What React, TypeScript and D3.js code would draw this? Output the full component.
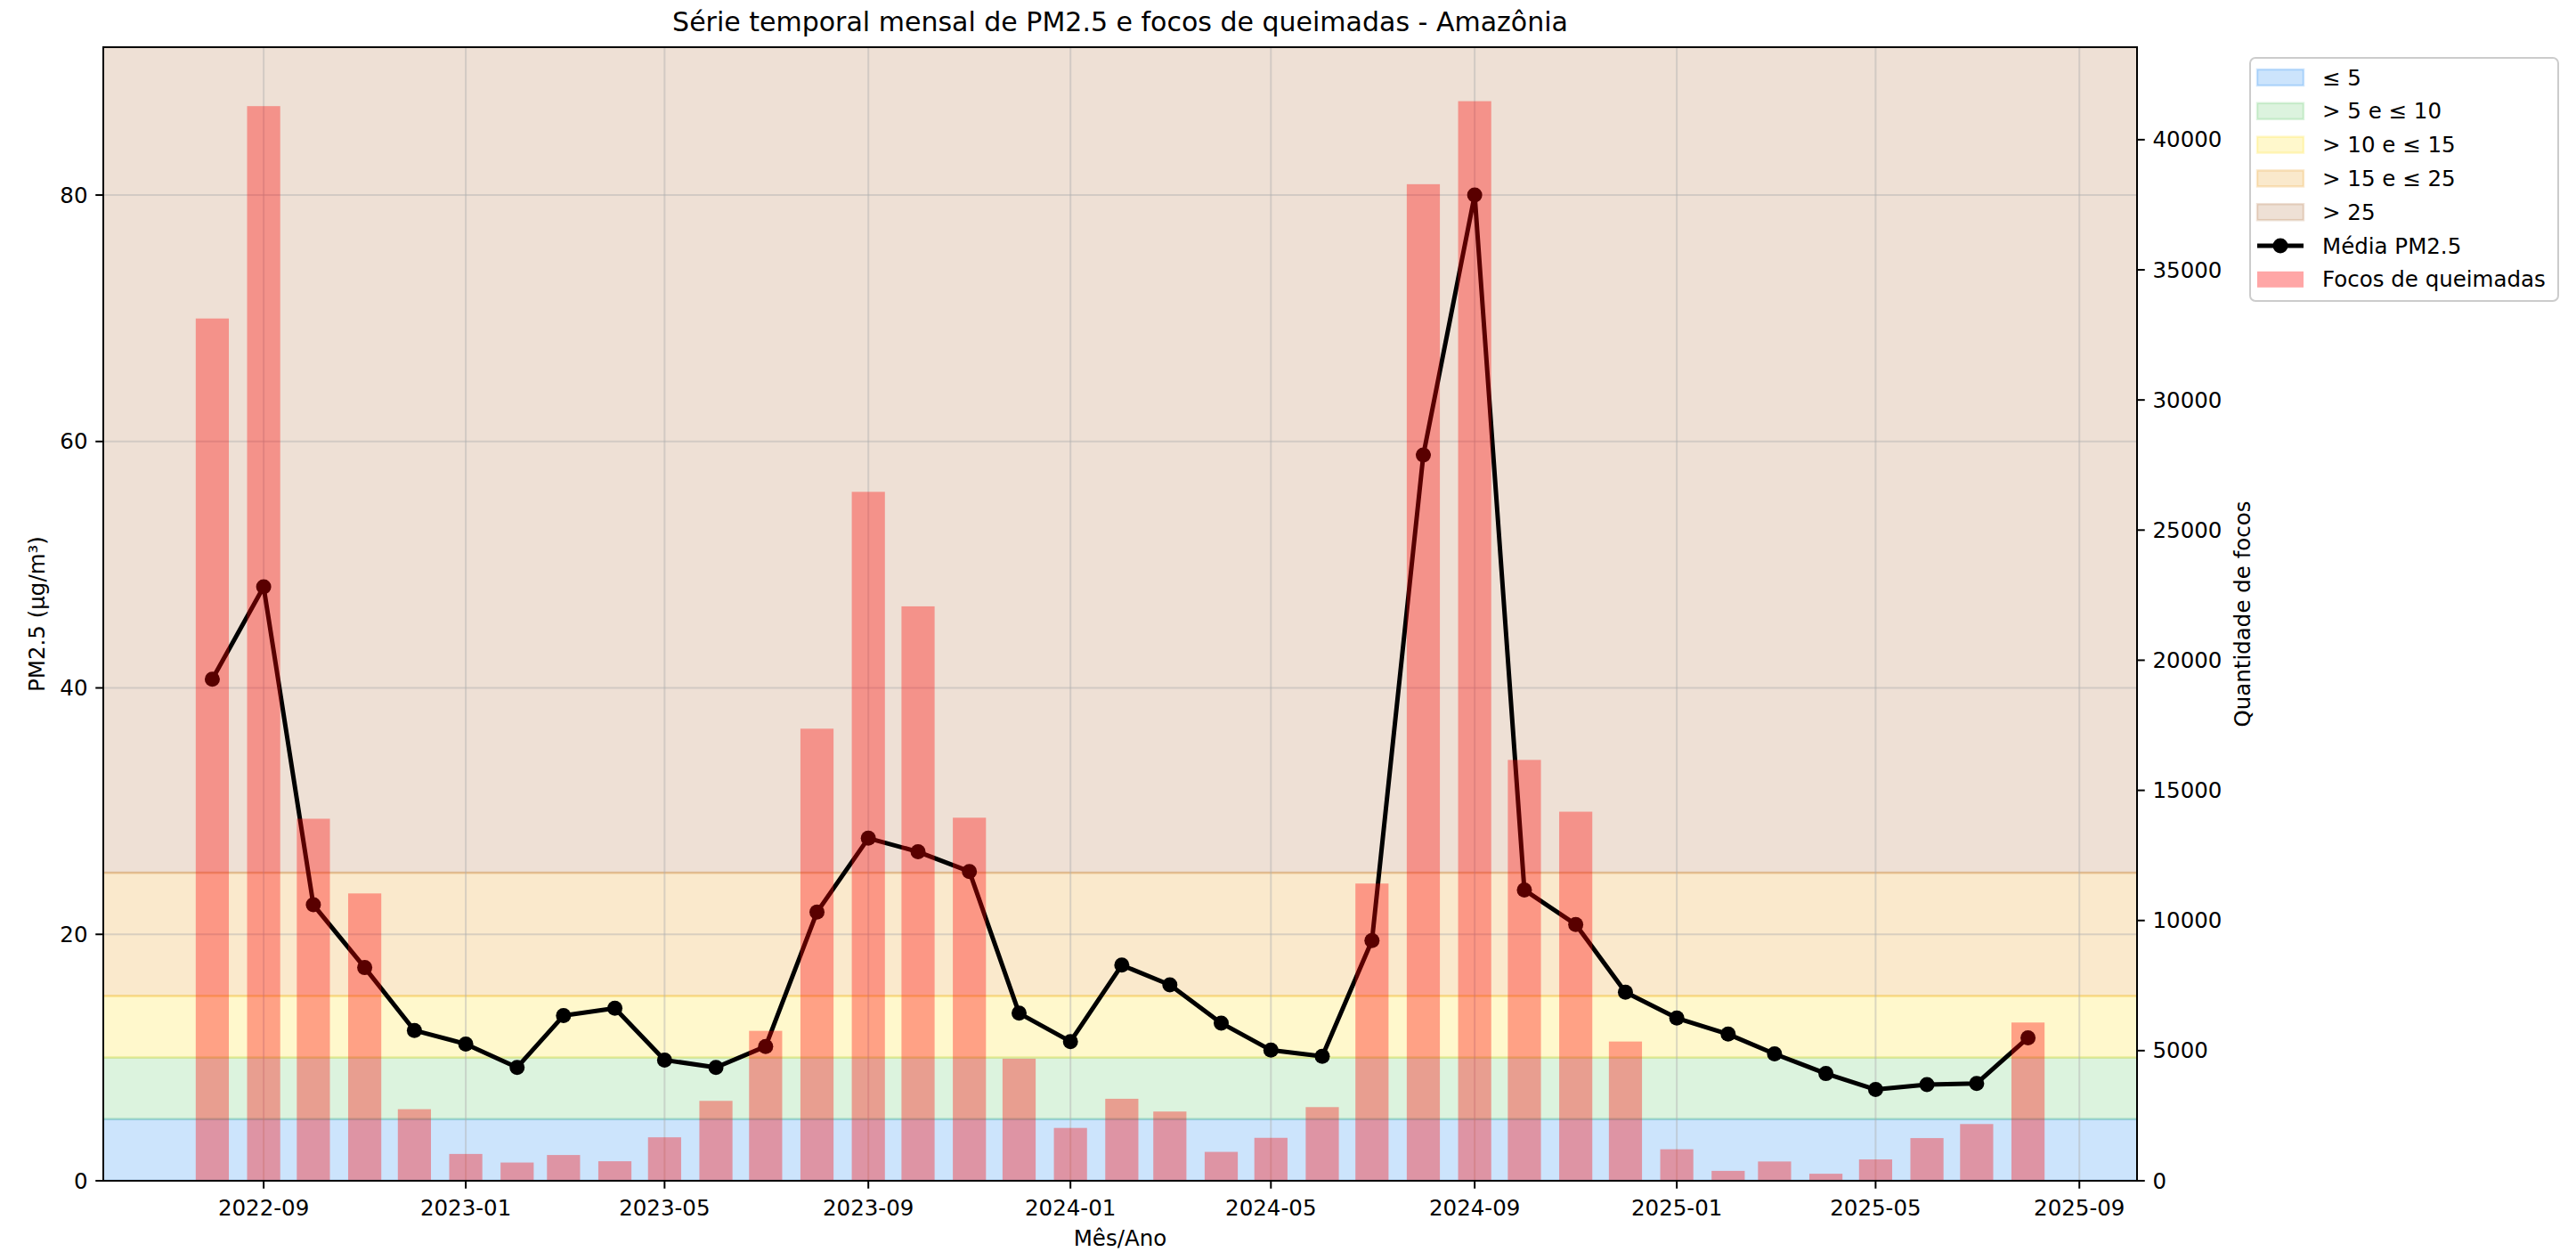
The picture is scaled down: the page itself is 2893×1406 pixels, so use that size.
import React from "react";
import * as d3 from "d3";

const months = [
  "2022-08", "2022-09", "2022-10", "2022-11", "2022-12",
  "2023-01", "2023-02", "2023-03", "2023-04", "2023-05", "2023-06",
  "2023-07", "2023-08", "2023-09", "2023-10", "2023-11", "2023-12",
  "2024-01", "2024-02", "2024-03", "2024-04", "2024-05", "2024-06",
  "2024-07", "2024-08", "2024-09", "2024-10", "2024-11", "2024-12",
  "2025-01", "2025-02", "2025-03", "2025-04", "2025-05", "2025-06",
  "2025-07", "2025-08",
];

const pm25 = [
  40.7, 48.2, 22.4, 17.3, 12.2,
  11.1, 9.2, 13.4, 14.0, 9.8, 9.2,
  10.9, 21.8, 27.8, 26.7, 25.1, 13.6,
  11.3, 17.5, 15.9, 12.8, 10.6, 10.1,
  19.5, 58.9, 80.0, 23.6, 20.8, 15.3,
  13.2, 11.9, 10.3, 8.7, 7.4, 7.8,
  7.9, 11.6,
];

const fires = [
  33130, 41290, 13910, 11040, 2750,
  1030, 700, 990, 750, 1670, 3070,
  5760, 17370, 26470, 22070, 13950, 4690,
  2030, 3150, 2660, 1110, 1650, 2830,
  11420, 38290, 41480, 16170, 14180, 5350,
  1210, 380, 740, 270, 820, 1640,
  2180, 6080,
];

const xTickLabels = [
  "2022-09", "2023-01", "2023-05", "2023-09", "2024-01",
  "2024-05", "2024-09", "2025-01", "2025-05", "2025-09",
];
const pmTicks = [0, 20, 40, 60, 80];
const fireTicks = [0, 5000, 10000, 15000, 20000, 25000, 30000, 35000, 40000];

const bandLabels = ["≤ 5", "> 5 e ≤ 10", "> 10 e ≤ 15", "> 15 e ≤ 25", "> 25"];
const bandLows = [0, 5, 10, 15, 25];
const bandHighs = [5, 10, 15, 25, 92];
const bandColors = ["#0078F0", "#50C35A", "#FFDC00", "#E69100", "#AA642D"];

const title = "Série temporal mensal de PM2.5 e focos de queimadas - Amazônia";
const xLabel = "Mês/Ano";
const yLabelLeft = "PM2.5 (µg/m³)";
const yLabelRight = "Quantidade de focos";
const lineLabel = "Média PM2.5";
const barLabel = "Focos de queimadas";

const W = 2893;
const H = 1406;
const L = 116;
const R = 2400;
const T = 53;
const B = 1326;
const FONT = "DejaVu Sans, sans-serif";
const FS = 24.5;

export default function App() {
  const parse = d3.utcParse("%Y-%m")!;
  const dates = months.map((m) => parse(m) as Date);
  const DAY = 86400000;
  const halfBar = 10 * DAY;
  const dMin = +dates[0] - halfBar;
  const dMax = +dates[dates.length - 1] + halfBar;
  const pad = (dMax - dMin) * 0.05;
  const x = d3.scaleUtc().domain([new Date(dMin - pad), new Date(dMax + pad)]).range([L, R]);
  const yL = d3.scaleLinear().domain([0, d3.max(pm25)! * 1.15]).range([B, T]);
  const yR = d3.scaleLinear().domain([0, d3.max(fires)! * 1.05]).range([B, T]);

  const line = d3
    .line<number>()
    .x((_, i) => x(dates[i]))
    .y((d) => yL(d));

  const xTicks = xTickLabels.map((s) => parse(s) as Date);
  const tickLen = 8.75;
  const markerR = 8.5;

  const legendX = 2527;
  const legendY = 65;
  const legendW = 346;
  const legendH = 273;
  const rowY = (i: number) => 87 + i * 37.8;
  const patchX = 2535;
  const patchW = 52;
  const patchH = 18;
  const textX = 2608;

  return (
    <div>
      <style>{`body{margin:0;background:#fff}`}</style>
      <svg width={W} height={H} style={{ display: "block", fontFamily: FONT }}>
        <rect x={0} y={0} width={W} height={H} fill="#fff" />
        <defs>
          <clipPath id="plotclip">
            <rect x={L} y={T} width={R - L} height={B - T} />
          </clipPath>
        </defs>
        <g clipPath="url(#plotclip)">
          {bandLows.map((lo, i) => {
            const hi = i === bandLows.length - 1 ? yL.domain()[1] + 5 : bandHighs[i];
            return (
              <rect
                key={"band" + i}
                x={L - 5}
                y={yL(hi)}
                width={R - L + 10}
                height={yL(lo) - yL(hi)}
                fill={bandColors[i]}
                fillOpacity={0.2}
                stroke={bandColors[i]}
                strokeOpacity={0.2}
                strokeWidth={2.5}
              />
            );
          })}
          {xTicks.map((d, i) => (
            <line key={"gx" + i} x1={x(d)} x2={x(d)} y1={T} y2={B} stroke="#b0b0b0" strokeOpacity={0.45} strokeWidth={2} />
          ))}
          {pmTicks.map((v, i) => (
            <line key={"gy" + i} x1={L} x2={R} y1={yL(v)} y2={yL(v)} stroke="#b0b0b0" strokeOpacity={0.45} strokeWidth={2} />
          ))}
          <path d={line(pm25) || ""} fill="none" stroke="#000" strokeWidth={5} strokeLinejoin="round" />
          {pm25.map((v, i) => (
            <circle key={"pt" + i} cx={x(dates[i])} cy={yL(v)} r={markerR} fill="#000" />
          ))}
          {fires.map((v, i) => {
            const x0 = x(new Date(+dates[i] - halfBar));
            const x1 = x(new Date(+dates[i] + halfBar));
            return (
              <rect
                key={"bar" + i}
                x={x0}
                y={yR(v)}
                width={x1 - x0}
                height={yR(0) - yR(v)}
                fill="#ff0000"
                fillOpacity={0.35}
              />
            );
          })}
        </g>

        {/* spines */}
        <rect x={L} y={T} width={R - L} height={B - T} fill="none" stroke="#000" strokeWidth={2} />

        {/* x axis ticks */}
        {xTicks.map((d, i) => (
          <g key={"xt" + i}>
            <line x1={x(d)} x2={x(d)} y1={B} y2={B + tickLen} stroke="#000" strokeWidth={2} />
            <text x={x(d)} y={1365} textAnchor="middle" fontSize={FS} fill="#000">
              {xTickLabels[i]}
            </text>
          </g>
        ))}
        {/* left y axis */}
        {pmTicks.map((v, i) => (
          <g key={"yl" + i}>
            <line x1={L - tickLen} x2={L} y1={yL(v)} y2={yL(v)} stroke="#000" strokeWidth={2} />
            <text x={L - tickLen - 8.75} y={yL(v)} dy="0.35em" textAnchor="end" fontSize={FS} fill="#000">
              {d3.format("d")(v)}
            </text>
          </g>
        ))}
        {/* right y axis */}
        {fireTicks.map((v, i) => (
          <g key={"yr" + i}>
            <line x1={R} x2={R + tickLen} y1={yR(v)} y2={yR(v)} stroke="#000" strokeWidth={2} />
            <text x={R + tickLen + 8.75} y={yR(v)} dy="0.35em" textAnchor="start" fontSize={FS} fill="#000">
              {d3.format("d")(v)}
            </text>
          </g>
        ))}

        {/* labels */}
        <text x={(L + R) / 2} y={35} textAnchor="middle" fontSize={30} fill="#000">
          {title}
        </text>
        <text x={(L + R) / 2} y={1399} textAnchor="middle" fontSize={FS} fill="#000">
          {xLabel}
        </text>
        <text
          transform={`translate(41,${(T + B) / 2}) rotate(-90)`}
          textAnchor="middle"
          dy="0.35em"
          fontSize={FS}
          fill="#000"
        >
          {yLabelLeft}
        </text>
        <text
          transform={`translate(2518,${(T + B) / 2}) rotate(-90)`}
          textAnchor="middle"
          dy="0.35em"
          fontSize={FS}
          fill="#000"
        >
          {yLabelRight}
        </text>

        {/* legend */}
        <rect
          x={legendX}
          y={legendY}
          width={legendW}
          height={legendH}
          rx={6}
          fill="#fff"
          fillOpacity={0.8}
          stroke="#cccccc"
          strokeWidth={2}
        />
        {bandLabels.map((lab, i) => (
          <g key={"lg" + i}>
            <rect
              x={patchX}
              y={rowY(i) - patchH / 2}
              width={patchW}
              height={patchH}
              fill={bandColors[i]}
              fillOpacity={0.2}
              stroke={bandColors[i]}
              strokeOpacity={0.2}
              strokeWidth={2.5}
            />
            <text x={textX} y={rowY(i)} dy="0.35em" fontSize={FS} fill="#000">
              {lab}
            </text>
          </g>
        ))}
        <g>
          <line x1={patchX} x2={patchX + patchW} y1={rowY(5)} y2={rowY(5)} stroke="#000" strokeWidth={5} />
          <circle cx={patchX + patchW / 2} cy={rowY(5)} r={markerR} fill="#000" />
          <text x={textX} y={rowY(5)} dy="0.35em" fontSize={FS} fill="#000">
            {lineLabel}
          </text>
        </g>
        <g>
          <rect x={patchX} y={rowY(6) - patchH / 2} width={patchW} height={patchH} fill="#ff0000" fillOpacity={0.35} />
          <text x={textX} y={rowY(6)} dy="0.35em" fontSize={FS} fill="#000">
            {barLabel}
          </text>
        </g>
      </svg>
    </div>
  );
}
